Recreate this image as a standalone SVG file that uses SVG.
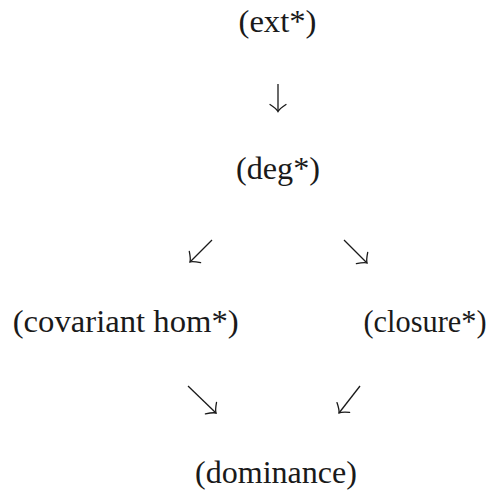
<svg xmlns="http://www.w3.org/2000/svg" width="494" height="493" viewBox="0 0 494 493">
<style>
.lbl{font-family:"Liberation Serif","DejaVu Serif",serif;font-size:31px;fill:#1a1a1a;text-anchor:middle}
.arr{stroke:#1a1a1a;stroke-width:1.3;fill:none;marker-end:url(#head)}
</style>
<defs>
<marker id="head" markerUnits="userSpaceOnUse" markerWidth="20" markerHeight="20" refX="0" refY="0" orient="auto" overflow="visible" viewBox="-10 -10 20 20">
<path d="M-7,-8 C-4,-3.5 -1.5,-0.8 0,0 C-1.5,0.8 -4,3.5 -7,8" fill="none" stroke="#1a1a1a" stroke-width="1.3" stroke-linecap="round"/>
</marker>
</defs>
<rect width="494" height="493" fill="#ffffff"/>
<g id="connectors">
<line class="arr" x1="278" y1="84" x2="278" y2="111.5"/>
<line class="arr" x1="212" y1="240" x2="190" y2="262"/>
<line class="arr" x1="344" y1="240" x2="367" y2="263"/>
<line class="arr" x1="188" y1="386" x2="216" y2="413"/>
<line class="arr" x1="360" y1="386" x2="339" y2="413"/>
</g>
<g id="ext"><text class="lbl" x="277.5" y="32" textLength="78" lengthAdjust="spacingAndGlyphs">(ext*)</text></g>
<g id="deg"><text class="lbl" x="278" y="179" textLength="84" lengthAdjust="spacingAndGlyphs">(deg*)</text></g>
<g id="covariant-hom"><text class="lbl" x="125.7" y="332" textLength="226" lengthAdjust="spacingAndGlyphs">(covariant hom*)</text></g>
<g id="closure"><text class="lbl" x="425" y="332" textLength="123" lengthAdjust="spacingAndGlyphs">(closure*)</text></g>
<g id="dominance"><text class="lbl" x="276" y="483" textLength="162" lengthAdjust="spacingAndGlyphs">(dominance)</text></g>
</svg>
